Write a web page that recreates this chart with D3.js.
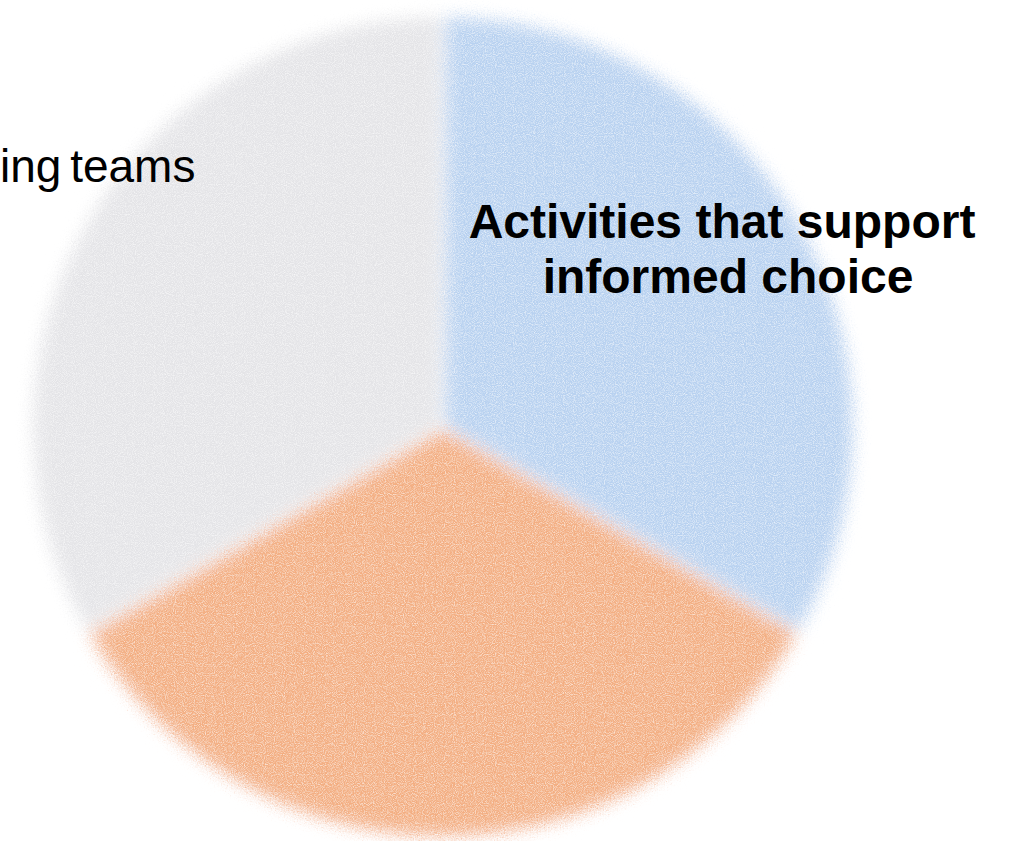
<!DOCTYPE html>
<html>
<head>
<meta charset="utf-8">
<script src="https://cdn.jsdelivr.net/npm/d3@7"></script>
<style>
html,body{margin:0;padding:0;background:#fff;}
svg{display:block;}
</style>
</head>
<body>
<svg id="chart" width="1010" height="841"></svg>
<script>
const categories = ["Activities that support informed choice", "Other activities", "Supporting teams"];
const values = [1, 1, 1];
const colors = ["#b8d1f0", "#f3ae82", "#e4e4e7"];
const labelLines = [["Activities that support", "informed choice"], [], ["ing teams"]];

const W = 1010, H = 841;
const cx = 443, cy = 427, R = 412;
const svg = d3.select("#chart");

const defs = svg.append("defs");
const f = defs.append("filter").attr("id", "soft")
  .attr("filterUnits", "userSpaceOnUse")
  .attr("x", -60).attr("y", -60).attr("width", W + 120).attr("height", H + 120);
f.append("feGaussianBlur").attr("in", "SourceGraphic").attr("stdDeviation", 8).attr("result", "blur");
f.append("feTurbulence").attr("type", "fractalNoise").attr("baseFrequency", 0.7)
  .attr("numOctaves", 2).attr("seed", 3).attr("result", "noise");
f.append("feDisplacementMap").attr("in", "blur").attr("in2", "noise")
  .attr("scale", 20).attr("xChannelSelector", "R").attr("yChannelSelector", "G").attr("result", "disp");
f.append("feTurbulence").attr("type", "fractalNoise").attr("baseFrequency", 1.1)
  .attr("numOctaves", 1).attr("seed", 11).attr("result", "noise2");
f.append("feColorMatrix").attr("in", "noise2").attr("type", "matrix")
  .attr("values", "0 0 0 0 0  0 0 0 0 0  0 0 0 0 0  1.6 0 0 0 0.05").attr("result", "grain");
f.append("feComposite").attr("in", "disp").attr("in2", "grain").attr("operator", "in");

const pie = d3.pie().sort(null).value(d => d)
  .startAngle(0).endAngle(2 * Math.PI);
const arc = d3.arc().innerRadius(0).outerRadius(R);
const arcs = pie(values);

const g = svg.append("g").attr("filter", "url(#soft)");
g.append("g").attr("transform", `translate(${cx},${cy})`)
  .selectAll("path").data(arcs).join("path")
  .attr("d", arc)
  .attr("fill", (d, i) => colors[i])
  .attr("stroke", "#ffffff")
  .attr("stroke-width", 4)
  .attr("stroke-linejoin", "round");

// Labels
const t1 = svg.append("text")
  .attr("y", 238)
  .attr("text-anchor", "middle")
  .attr("font-family", "Liberation Sans, Arial, sans-serif")
  .attr("font-weight", "bold")
  .attr("font-size", 48)
  .attr("fill", "#000");
t1.selectAll("tspan").data(labelLines[0]).join("tspan")
  .attr("x", (d, i) => i === 0 ? 722 : 728).attr("dy", (d, i) => i === 0 ? 0 : 55)
  .text(d => d);

svg.append("text")
  .attr("x", 0).attr("y", 182)
  .attr("font-family", "Liberation Sans, Arial, sans-serif")
  .attr("font-size", 46)
  .attr("word-spacing", -4)
  .attr("fill", "#000")
  .text(labelLines[2][0]);
</script>
</body>
</html>
